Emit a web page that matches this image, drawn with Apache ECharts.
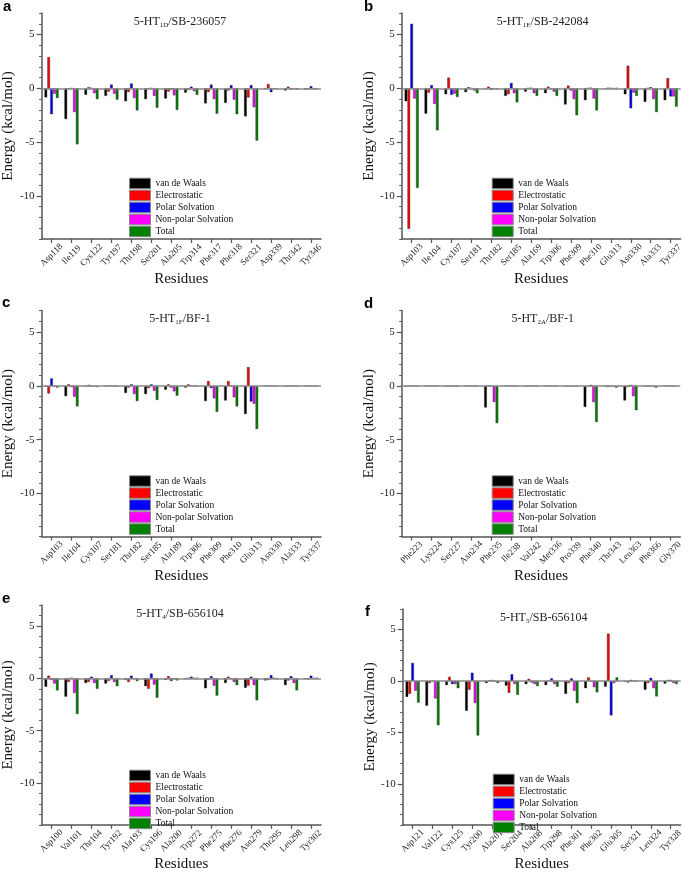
<!DOCTYPE html>
<html>
<head>
<meta charset="utf-8">
<script src="https://cdn.jsdelivr.net/npm/echarts@6/dist/echarts.min.js"></script>
<style>html,body{margin:0;padding:0;background:#fff;}#c{width:685px;height:873px;}</style>
</head>
<body>
<div id="c"></div>
<script>
// ---- data ----
const seriesNames = ['van de Waals','Electrostatic','Polar Solvation','Non-polar Solvation','Total'];
const yTickValues = [-10,-5,0,5];

const catsA = ['Asp118','Ile119','Cys122','Tyr197','Thr198','Ser201','Ala205','Trp314','Phe317','Phe318','Ser321','Asp339','Thr342','Tyr346'];
const vdwA = [-0.84,-2.85,-0.6,-0.7,-1.2,-1.0,-0.95,-0.4,-1.4,-1.35,-2.6,-0.05,-0.2,-0.1];
const eleA = [2.9,-0.05,0.1,-0.3,-0.35,-0.02,-0.3,-0.15,-0.35,-0.2,-0.85,0.4,0.15,-0.1];
const polA = [-2.4,0.02,0.03,0.35,0.45,0.02,-0.1,0.15,0.35,0.3,0.3,-0.35,-0.1,0.2];
const nonA = [-0.5,-2.2,-0.45,-0.5,-0.9,-0.7,-0.65,-0.25,-1.0,-1.05,-1.75,-0.03,-0.03,-0.1];
const totA = [-0.9,-5.2,-1.0,-1.05,-2.05,-1.8,-2.0,-0.6,-2.35,-2.4,-4.85,-0.05,-0.1,-0.05];

const catsB = ['Asp103','Ile104','Cys107','Ser181','Thr182','Ser185','Ala169','Trp306','Phe309','Phe310','Glu313','Asn330','Ala333','Tyr337'];
const vdwB = [-1.2,-2.35,-0.55,-0.35,-0.05,-0.7,-0.3,-0.45,-1.5,-1.1,-0.05,-0.55,-1.25,-1.1];
const eleB = [-13.05,-0.4,1.0,0.1,0.15,-0.55,0.03,0.15,0.25,0.03,0.05,2.1,0.02,0.95];
const polB = [6.0,0.3,-0.6,0.02,-0.15,0.5,0.05,-0.05,-0.2,0.05,0.02,-1.85,0.1,-0.75];
const nonB = [-0.95,-1.45,-0.5,-0.2,-0.03,-0.45,-0.45,-0.3,-1.0,-0.95,-0.02,-0.4,-1.0,-0.75];
const totB = [-9.25,-3.9,-0.8,-0.45,-0.05,-1.3,-0.7,-0.7,-2.5,-2.05,0.03,-0.7,-2.2,-1.7];

const catsC = ['Asp103','Ile104','Cys107','Ser181','Thr182','Ser185','Ala189','Trp306','Phe309','Phe310','Glu313','Asn330','Ala333','Tyr337'];
const vdwC = [-0.05,-0.95,-0.05,-0.05,-0.65,-0.75,-0.35,-0.15,-1.4,-1.35,-2.6,-0.03,-0.03,-0.03];
const eleC = [-0.7,0.15,0.1,0.05,-0.15,-0.2,0.15,0.15,0.45,0.45,1.75,0.03,0.02,0.02];
const polC = [0.7,-0.1,-0.05,0.02,0.15,0.15,-0.15,0.02,-0.2,0.05,-1.45,0.02,-0.02,0.02];
const nonC = [-0.05,-1.0,-0.05,-0.05,-0.75,-0.45,-0.5,-0.03,-1.15,-1.05,-1.65,-0.02,-0.02,-0.02];
const totC = [-0.15,-1.9,-0.1,-0.05,-1.4,-1.3,-0.9,-0.05,-2.4,-1.9,-4.0,-0.03,-0.03,-0.03];

const catsD = ['Phe223','Lys224','Ser227','Asn234','Phe235','Ile238','Val242','Met336','Pro339','Phe340','Thr343','Leu363','Phe366','Gly370'];
const vdwD = [-0.03,-0.03,-0.03,-0.03,-2.0,-0.03,-0.03,-0.03,-0.05,-1.95,-0.03,-1.35,-0.05,-0.03];
const eleD = [0.02,0.05,-0.02,-0.02,-0.03,-0.02,0.03,0.02,0.03,-0.03,-0.1,-0.1,-0.02,0.02];
const polD = [0.02,0.03,-0.02,0.02,0.05,0.02,0.02,-0.02,-0.05,0.1,-0.02,0.1,0.02,-0.02];
const nonD = [-0.02,-0.02,-0.02,-0.02,-1.5,-0.02,-0.02,-0.02,-0.03,-1.5,-0.03,-0.95,-0.03,-0.02];
const totD = [-0.03,0.03,-0.05,-0.03,-3.45,-0.03,-0.02,-0.03,-0.05,-3.35,-0.15,-2.25,-0.15,-0.03];

const catsE = ['Asp100','Val101','Thr104','Tyr192','Ala193','Cys196','Ala200','Trp272','Phe275','Phe276','Asn279','Thr295','Leu298','Tyr302'];
const vdwE = [-0.8,-1.75,-0.45,-0.5,-0.15,-0.75,-0.15,-0.05,-0.95,-0.45,-0.9,-0.2,-0.65,-0.05];
const eleE = [0.25,-0.35,-0.35,-0.25,-0.35,-1.0,0.2,0.02,-0.15,0.15,-0.7,-0.15,-0.2,-0.1];
const polE = [-0.15,0.05,0.15,0.3,0.25,0.45,-0.25,0.15,0.2,-0.05,0.15,0.3,0.2,0.25];
const nonE = [-0.5,-1.4,-0.45,-0.35,-0.05,-0.6,-0.05,0.02,-0.7,-0.35,-0.65,0.05,-0.45,0.02];
const totE = [-1.15,-3.4,-1.0,-0.75,-0.25,-1.85,-0.2,0.02,-1.65,-0.65,-2.1,-0.1,-1.15,0.05];

const catsF = ['Asp121','Val122','Cys125','Tyr200','Ala201','Ser204','Ala208','Trp298','Phe301','Phe302','Glu305','Ser321','Leu324','Tyr328'];
const vdwF = [-1.55,-2.4,-0.4,-2.9,-0.2,-0.45,-0.3,-0.4,-1.25,-0.7,-0.55,-0.05,-0.85,-0.25];
const eleF = [-1.25,-0.2,0.4,-0.85,0.05,-1.15,0.2,0.02,-0.2,0.35,4.6,-0.15,-0.2,0.1];
const polF = [1.75,0.02,-0.3,0.8,0.1,0.65,-0.15,0.25,0.25,-0.05,-3.35,0.1,0.3,0.1];
const nonF = [-0.95,-1.7,-0.3,-2.15,-0.05,-0.3,-0.3,-0.3,-0.95,-0.6,-0.2,-0.02,-0.7,-0.2];
const totF = [-2.1,-4.3,-0.7,-5.3,-0.2,-1.35,-0.5,-0.55,-2.15,-1.1,0.35,0.02,-1.5,-0.3];

// ---- layout / style ----
const colors = ['#000000','#ff0000','#0000ff','#ff00ff','#008000'];
const serif = '"Liberation Serif", "DejaVu Serif", serif';
const panels = [
  {letter:'a', t:['5-HT','1D','/SB-236057'], cats:catsA, vals:[vdwA,eleA,polA,nonA,totA], left:39,    top:13,    lx:3,   ly:14},
  {letter:'b', t:['5-HT','1E','/SB-242084'], cats:catsB, vals:[vdwB,eleB,polB,nonB,totB], left:401.7, top:13,    lx:364, ly:14},
  {letter:'c', t:['5-HT','1F','/BF-1'],      cats:catsC, vals:[vdwC,eleC,polC,nonC,totC], left:39,    top:310.6, lx:2,   ly:310},
  {letter:'d', t:['5-HT','2A','/BF-1'],      cats:catsD, vals:[vdwD,eleD,polD,nonD,totD], left:401.7, top:310.6, lx:364, ly:311},
  {letter:'e', t:['5-HT','4','/SB-656104'],  cats:catsE, vals:[vdwE,eleE,polE,nonE,totE], left:39,    top:605,   lx:2,   ly:606},
  {letter:'f', t:['5-HT','5','/SB-656104'],  cats:catsF, vals:[vdwF,eleF,polF,nonF,totF], left:402.7, top:609,   lx:365, ly:619}
];
const GW = 282, GH = 226;
const axisColor = '#555';

const option = {
  animation: false,
  backgroundColor: '#fff',
  grid: [], xAxis: [], yAxis: [], series: [], legend: [], graphic: []
};

panels.forEach((p, i) => {
  option.grid.push({left: p.left, top: p.top, width: GW, height: GH, containLabel: false});
  option.xAxis.push({
    type: 'category', gridIndex: i, data: p.cats,
    axisLine: {show: true, onZero: false, lineStyle: {color: axisColor, width: 1.5}},
    axisTick: {show: true, alignWithLabel: true, length: 4, lineStyle: {color: axisColor, width: 1.2}},
    axisLabel: {interval: 0, rotate: 45, fontSize: 9, fontFamily: serif, color: '#222', margin: 16, align: 'center', verticalAlign: 'middle'},
    splitLine: {show: false},
    name: 'Residues', nameLocation: 'middle', nameGap: 24,
    nameTextStyle: {fontSize: 15, fontFamily: serif, color: '#111'}
  });
  option.yAxis.push({
    type: 'value', gridIndex: i, position: 'left', min: -14, max: 7, interval: 1,
    axisLine: {show: true, lineStyle: {color: axisColor, width: 1.5}},
    axisTick: {show: true, length: 2.5, lineStyle: {color: axisColor, width: 1}},
    axisLabel: {show: false}, splitLine: {show: false}
  });
  option.yAxis.push({
    type: 'value', gridIndex: i, position: 'left', offset: 0, min: -14, max: 7,
    axisLine: {show: false},
    axisTick: {show: true, length: 5, customValues: yTickValues, lineStyle: {color: axisColor, width: 1.2}},
    axisLabel: {show: true, customValues: yTickValues, fontSize: 11, fontFamily: serif, color: '#222', margin: 7},
    splitLine: {show: false},
    name: 'Energy (kcal/mol)', nameLocation: 'middle', nameGap: 23, nameRotate: 90,
    nameTextStyle: {fontSize: 15, fontFamily: serif, color: '#111'}
  });
  seriesNames.forEach((n, k) => {
    const s = {
      type: 'bar', name: n, xAxisIndex: i, yAxisIndex: 2 * i, data: p.vals[k],
      barWidth: 2.6, barGap: '10%',
      itemStyle: {color: colors[k], borderColor: '#222', borderWidth: 0.4},
      emphasis: {disabled: true}
    };
    if (k === 0) {
      s.markLine = {silent: true, symbol: 'none', label: {show: false},
        lineStyle: {color: '#888', width: 1.5, type: 'solid'}, data: [{yAxis: 0}]};
    }
    option.series.push(s);
  });
  option.legend.push({
    orient: 'vertical', left: p.left + 90, top: p.top + 164.7, padding: 0,
    itemWidth: 21, itemHeight: 10.5, itemGap: 0.5, icon: 'rect', selectedMode: false,
    data: seriesNames,
    itemStyle: {borderColor: '#888', borderWidth: 1},
    textStyle: {fontFamily: serif, fontSize: 9.5, color: '#111'}
  });
  option.graphic.push({
    type: 'text', x: p.lx, y: p.ly,
    style: {text: p.letter, font: 'bold 15px "Liberation Sans", Arial, sans-serif', fill: '#000', align: 'left', verticalAlign: 'bottom'}
  });
  option.graphic.push({
    type: 'text', x: p.left + GW / 2, y: p.top + 8.5,
    style: {
      text: '{m|' + p.t[0] + '}{s|' + p.t[1] + '}{m|' + p.t[2] + '}',
      align: 'center', verticalAlign: 'middle', fill: '#222', fontFamily: serif, fontSize: 12,
      rich: {
        m: {fontSize: 12, fontFamily: serif, fill: '#222', lineHeight: 14},
        s: {fontSize: 7, fontFamily: serif, fill: '#222', lineHeight: 14, verticalAlign: 'bottom'}
      }
    }
  });
});

const chart = echarts.init(document.getElementById('c'), null, {renderer: 'canvas'});
chart.setOption(option);
</script>
</body>
</html>
